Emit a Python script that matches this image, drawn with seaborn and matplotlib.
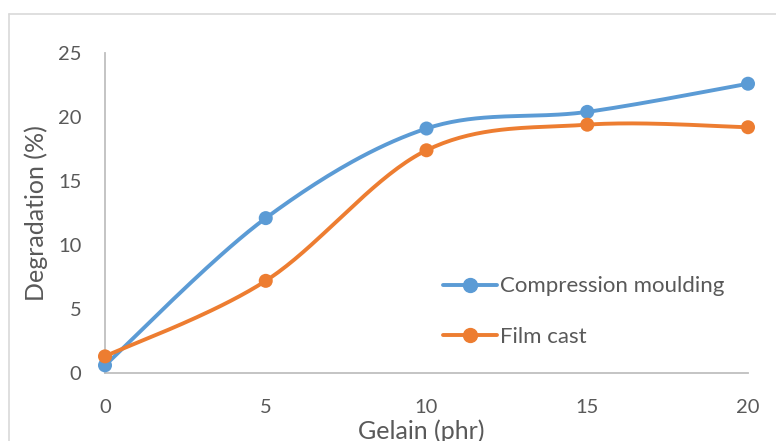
import numpy as np
import pandas as pd
import matplotlib
matplotlib.use("Agg")
import matplotlib.pyplot as plt
from matplotlib.lines import Line2D
import seaborn as sns

# ---- data ----
gelatin = [0, 5, 10, 15, 20]
compression = [0.6, 12.1, 19.1, 20.4, 22.6]
film_cast = [1.3, 7.2, 17.4, 19.4, 19.2]
series_names = ["Compression moulding", "Film cast"]
colors = ["#5B9BD5", "#ED7D31"]
x_ticks = [0, 5, 10, 15, 20]
y_ticks = [0, 5, 10, 15, 20, 25]

sns.set_theme(style="white")
FONT = ["Lato", "DejaVu Sans"]
plt.rcParams["font.family"] = FONT
TXT = "#595959"

W, H = 776, 441
fig = plt.figure(figsize=(W / 100, H / 100), dpi=100)
L, R, T, B = 105, 748, 53, 373
ax = fig.add_axes([L / W, 1 - B / H, (R - L) / W, (B - T) / H])

sx = (R - L) / 20.0
sy = (B - T) / 25.0


def smooth(xs, ys, n=40):
    """Excel-style Catmull-Rom Bezier smoothing, computed in pixel space."""
    P = np.column_stack([np.asarray(xs, float) * sx, np.asarray(ys, float) * sy])
    ext = np.vstack([P[0], P, P[-1]])
    out = []
    t = np.linspace(0, 1, n)[:, None]
    for i in range(len(P) - 1):
        p0, p3 = ext[i + 1], ext[i + 2]
        c1 = p0 + (ext[i + 2] - ext[i]) / 6.0
        c2 = p3 - (ext[i + 3] - ext[i + 1]) / 6.0
        seg = (1 - t) ** 3 * p0 + 3 * (1 - t) ** 2 * t * c1 + 3 * (1 - t) * t ** 2 * c2 + t ** 3 * p3
        out.append(seg if i == 0 else seg[1:])
    out = np.vstack(out)
    return out[:, 0] / sx, out[:, 1] / sy


rows = []
pts = []
for name, vals in zip(series_names, [compression, film_cast]):
    xx, yy = smooth(gelatin, vals)
    rows.append(pd.DataFrame({"x": xx, "y": yy, "series": name, "order": np.arange(len(xx))}))
    pts.append(pd.DataFrame({"x": gelatin, "y": vals, "series": name}))
curve = pd.concat(rows, ignore_index=True)
points = pd.concat(pts, ignore_index=True)
palette = dict(zip(series_names, colors))

LW = 2.8
sns.lineplot(data=curve, x="x", y="y", hue="series", palette=palette, sort=False,
             estimator=None, units="series", linewidth=LW, legend=False, ax=ax)
for ln in ax.lines:
    ln.set_clip_on(False)
    ln.set_solid_capstyle("round")
sns.scatterplot(data=points, x="x", y="y", hue="series", palette=palette, s=102,
                edgecolor="none", legend=False, ax=ax, clip_on=False, zorder=5)

ax.set_xlim(0, 20)
ax.set_ylim(0, 25)
ax.set_xticks(x_ticks)
ax.set_yticks(y_ticks)
ax.tick_params(axis="both", length=0, labelsize=14.5, labelcolor=TXT)
ax.tick_params(axis="y", pad=17)
ax.tick_params(axis="x", pad=19)
for s in ["top", "right"]:
    ax.spines[s].set_visible(False)
for s in ["left", "bottom"]:
    ax.spines[s].set_color("#BFBFBF")
    ax.spines[s].set_linewidth(1.3)
ax.grid(False)

ax.set_xlabel("Gelain (phr)", fontsize=18, color=TXT)
ax.set_ylabel("Degradation (%)", fontsize=18, color=TXT)
ax.xaxis.set_label_coords(0.492, -0.144)
ax.yaxis.set_label_coords(-0.088, 0.5)

handles = [Line2D([0], [0], color=c, lw=LW, marker="o", markersize=10) for c in colors]
leg = ax.legend(handles, series_names, loc="center left", bbox_to_anchor=(0.512, 0.192),
                frameon=False, fontsize=16, labelspacing=1.37, handlelength=2.43,
                handletextpad=0.15, borderaxespad=0)
for t in leg.get_texts():
    t.set_color(TXT)

# outer chart frame (partially visible as in the source image)
fc = "#D9D9D9"
fig.add_artist(Line2D([8.5 / W, 8.5 / W], [0, 1 - 13.5 / H], color=fc, lw=1.2, transform=fig.transFigure))
fig.add_artist(Line2D([8.5 / W, 1], [1 - 13.5 / H, 1 - 13.5 / H], color=fc, lw=1.2, transform=fig.transFigure))

fig.savefig("out.png", dpi=100)
